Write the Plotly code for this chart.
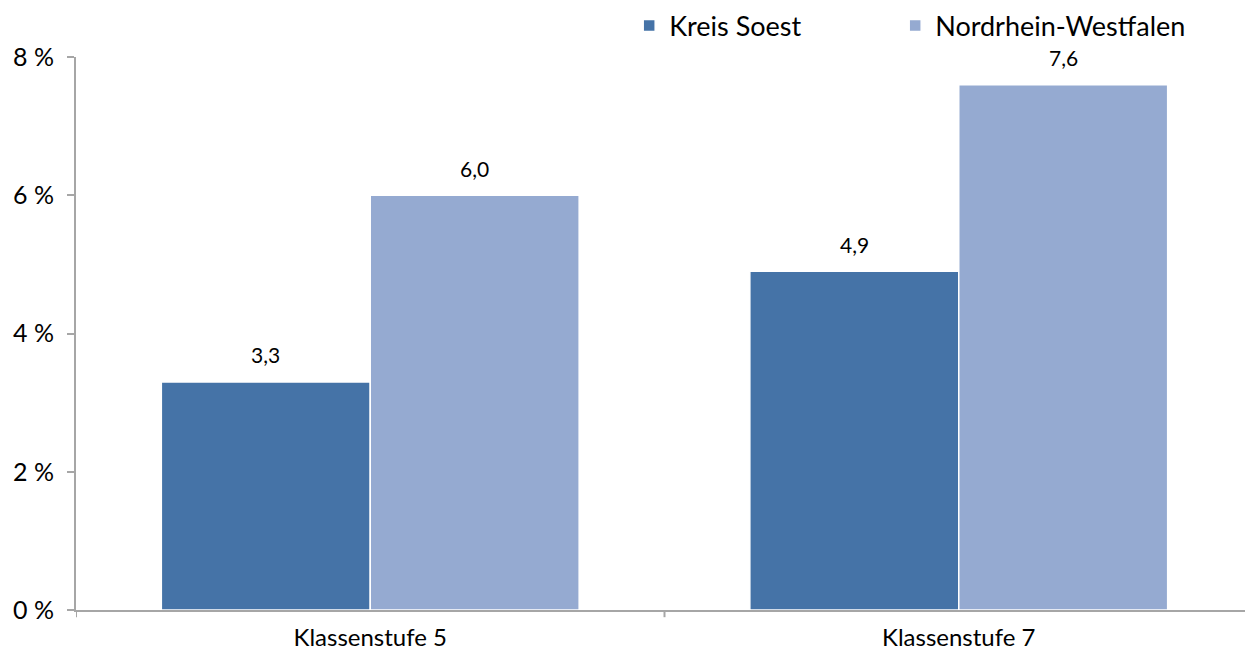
import plotly.graph_objects as go

categories = ["Klassenstufe 5", "Klassenstufe 7"]
series_names = ["Kreis Soest", "Nordrhein-Westfalen"]
kreis_soest = [3.3, 4.9]
nrw = [6.0, 7.6]
y_ticks = [0, 2, 4, 6, 8]
y_tick_labels = ["0 %", "2 %", "4 %", "6 %", "8 %"]

colors = ["#4573A7", "#95AAD1"]
bargap = 0.29

fig = go.Figure()
all_series = [kreis_soest, nrw]
legend_ids = ["legend", "legend2"]
for name, vals, col, lg in zip(series_names, all_series, colors, legend_ids):
    fig.add_trace(go.Bar(
        x=list(range(len(categories))), y=vals, name=name, legend=lg,
        marker=dict(color=col, line=dict(color="white", width=1.5)),
    ))

# value labels above bars
n = len(all_series)
group_w = 1 - bargap
for si, vals in enumerate(all_series):
    off = -group_w / 2 + group_w / n * (si + 0.5)
    for ci, v in enumerate(vals):
        fig.add_annotation(x=ci + off, y=v, xref="x", yref="y",
                           text=f"{v:.1f}".replace(".", ","), showarrow=False,
                           yshift=27, font=dict(size=21, color="#000000"))

axis_col = "#A6A6A6"
leg_common = dict(orientation="h", y=1.056, yanchor="middle", xanchor="left",
                  font=dict(size=27), bgcolor="rgba(0,0,0,0)")
fig.update_layout(
    width=1245, height=647,
    margin=dict(l=68, r=0, t=49, b=45, autoexpand=False),
    paper_bgcolor="white", plot_bgcolor="white",
    font=dict(family="Lato", size=22, color="#000000"),
    barmode="group", bargap=bargap, bargroupgap=0,
    showlegend=True,
    legend=dict(x=0.470, **leg_common),
    legend2=dict(x=0.696, **leg_common),
    xaxis=dict(tickvals=list(range(len(categories))), ticktext=categories,
               range=[-0.5, len(categories) - 0.5],
               showline=True, linecolor=axis_col, linewidth=2,
               ticks="", ticklabelstandoff=5, showgrid=False, tickfont=dict(size=24)),
    yaxis=dict(range=[0, 8], tickvals=y_ticks, ticktext=y_tick_labels,
               showline=True, linecolor=axis_col, linewidth=2,
               ticks="outside", ticklen=7, tickcolor=axis_col, tickwidth=2,
               ticklabelstandoff=8,
               showgrid=False, zeroline=False, tickfont=dict(size=25)),
)

# category boundary ticks on x axis
for b in [i - 0.5 for i in range(len(categories) + 1)]:
    fig.add_shape(type="line", xref="x", yref="paper", x0=b, x1=b, y0=0, y1=-0.013,
                  line=dict(color=axis_col, width=2))

fig.write_html("out.html")
